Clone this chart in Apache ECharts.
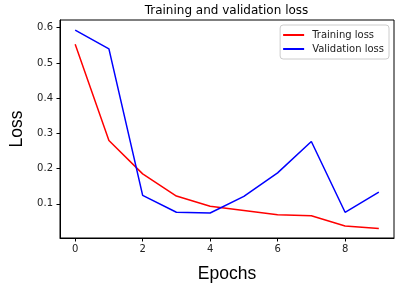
<!DOCTYPE html>
<html><head><meta charset="utf-8">
<script src="https://cdn.jsdelivr.net/npm/echarts@6/dist/echarts.min.js"></script>
<style>html,body{margin:0;padding:0;background:#fff}#c{width:408px;height:295px}</style>
</head><body><div id="c"></div>
<script>
const epochs = [0,1,2,3,4,5,6,7,8,9];
const trainingLoss = [0.553,0.280,0.185,0.122,0.093,0.081,0.069,0.066,0.037,0.030];
const validationLoss = [0.593,0.540,0.124,0.076,0.074,0.121,0.188,0.277,0.076,0.133];
const xTicks = [0,2,4,6,8];
const yTicks = [0.1,0.2,0.3,0.4,0.5,0.6];

const chart = echarts.init(document.getElementById('c'), null, {renderer:'canvas'});
const tickFont = {fontFamily:'DejaVu Sans', fontSize:10, color:'#222'};
chart.setOption({
  animation:false,
  backgroundColor:'#fff',
  graphic:[{type:'text', x:226.5, y:11, style:{text:'Training and validation loss', font:'12px "DejaVu Sans"', fill:'#000', textAlign:'center', textVerticalAlign:'middle'}}],
  grid:{left:59, right:14, top:20, bottom:57, show:true, borderColor:'#000', borderWidth:1, backgroundColor:'transparent'},
  legend:{orient:'vertical', right:19, top:25, icon:'rect', itemWidth:21, itemHeight:2, itemGap:4,
    padding:[5,5,5,3], borderColor:'#ccc', borderWidth:1, borderRadius:3, backgroundColor:'#fff',
    textStyle:{fontFamily:'DejaVu Sans', fontSize:10, color:'#222', padding:[0,0,0,3]},
    data:['Training loss','Validation loss']},
  xAxis:{type:'value', min:-0.45, max:9.45, position:'bottom',
    name:'Epochs', nameLocation:'middle', nameGap:27,
    nameTextStyle:{fontFamily:'Liberation Sans', fontSize:17.5, color:'#000'},
    axisLine:{show:true, onZero:false, lineStyle:{color:'#000', width:1}}, splitLine:{show:false},
    axisTick:{show:true, inside:false, length:3.5, customValues:xTicks, lineStyle:{color:'#000', width:1}},
    axisLabel:{...tickFont, margin:6.5, customValues:xTicks, formatter:v=>String(v)}},
  yAxis:{type:'value', min:0.003, max:0.622, position:'left',
    name:'Loss', nameLocation:'middle', nameGap:34,
    nameTextStyle:{fontFamily:'Liberation Sans', fontSize:17.5, color:'#000'},
    axisLine:{show:true, onZero:false, lineStyle:{color:'#000', width:1}}, splitLine:{show:false},
    axisTick:{show:true, inside:false, length:3.5, customValues:yTicks, lineStyle:{color:'#000', width:1}},
    axisLabel:{...tickFont, margin:7, customValues:yTicks, formatter:v=>v.toFixed(1)}},
  series:[
    {name:'Training loss', type:'line', data:epochs.map((e,i)=>[e,trainingLoss[i]]), showSymbol:false, symbol:'none', color:'#ff0000', lineStyle:{width:1.5, color:'#ff0000'}},
    {name:'Validation loss', type:'line', data:epochs.map((e,i)=>[e,validationLoss[i]]), showSymbol:false, symbol:'none', color:'#0000ff', lineStyle:{width:1.5, color:'#0000ff'}}
  ]
});
</script></body></html>
